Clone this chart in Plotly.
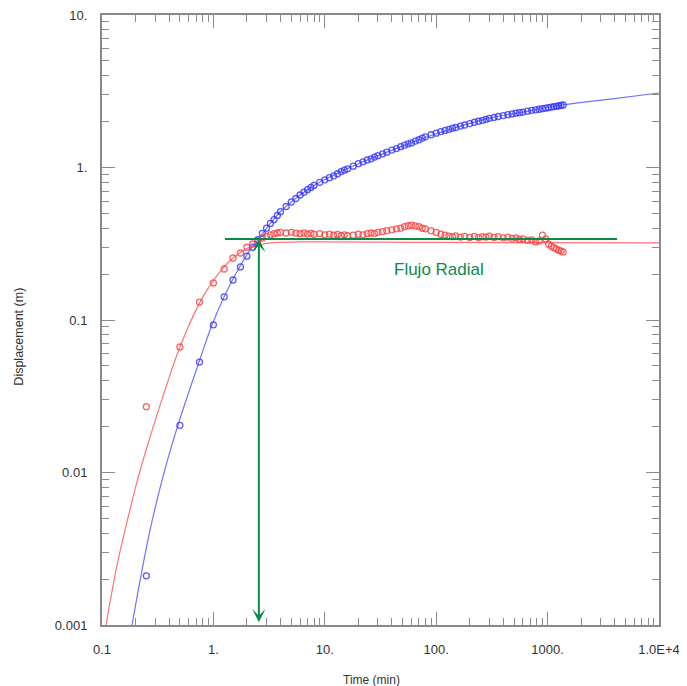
import math
import plotly.graph_objects as go

# ---------------- data ----------------
time_obs = [0.25, 0.5, 0.75, 1.0, 1.25, 1.5, 1.75, 2.0, 2.25, 2.5, 2.75, 3.0,
            3.25, 3.5, 3.75, 4.0, 4.5, 5.0, 5.5, 6.0, 6.5, 7.0, 7.5, 8.0, 9.0,
            10, 11, 12, 13, 14, 15, 16, 18, 20, 22, 24, 26, 28, 30, 33, 36,
            40, 44, 48, 52, 56, 60, 65, 70, 75, 80, 90, 100, 110, 120, 130,
            140, 150, 165, 180, 200, 220, 240, 260, 280, 300, 330, 360, 400,
            440, 480, 520, 560, 600, 660, 720, 780, 840, 900, 960, 1020, 1080,
            1140, 1200, 1260, 1320, 1380]

displacement_obs = [0.0021, 0.0204, 0.053, 0.093, 0.142, 0.183, 0.223, 0.262,
                    0.300, 0.336, 0.370, 0.400, 0.430, 0.455, 0.485, 0.513,
                    0.555, 0.594, 0.626, 0.660, 0.688, 0.716, 0.740, 0.763,
                    0.800, 0.83, 0.857, 0.880, 0.910, 0.940, 0.96, 0.98, 1.02,
                    1.06, 1.09, 1.12, 1.14, 1.17, 1.195, 1.23, 1.26, 1.30, 1.33,
                    1.37, 1.40, 1.43, 1.45, 1.49, 1.52, 1.56, 1.59, 1.64, 1.68,
                    1.72, 1.75, 1.78, 1.81, 1.83, 1.87, 1.90, 1.94, 1.98, 2.01,
                    2.04, 2.07, 2.10, 2.13, 2.16, 2.19, 2.22, 2.245, 2.27, 2.29,
                    2.31, 2.34, 2.37, 2.39, 2.41, 2.43, 2.45, 2.47, 2.49, 2.51,
                    2.52, 2.54, 2.555, 2.57]

derivative_obs = [0.027, 0.0665, 0.131, 0.175, 0.216, 0.255, 0.275, 0.30,
                  0.315, 0.33, 0.345, 0.355, 0.362, 0.368, 0.372, 0.375, 0.372,
                  0.376, 0.371, 0.368, 0.373, 0.366, 0.37, 0.365, 0.368, 0.362,
                  0.366, 0.36, 0.364, 0.358, 0.362, 0.357, 0.36, 0.365, 0.362,
                  0.368, 0.372, 0.37, 0.376, 0.38, 0.385, 0.39, 0.396, 0.40,
                  0.41, 0.415, 0.418, 0.414, 0.41, 0.40, 0.396, 0.385, 0.375,
                  0.365, 0.36, 0.355, 0.352, 0.356, 0.35, 0.354, 0.348, 0.353,
                  0.347, 0.352, 0.35, 0.355, 0.348, 0.352, 0.346, 0.35, 0.343,
                  0.346, 0.338, 0.34, 0.333, 0.335, 0.325, 0.33, 0.36, 0.34,
                  0.315, 0.305, 0.298, 0.292, 0.287, 0.283, 0.279]

# fitted curves
time_fit_disp = [0.186, 0.219, 0.27, 0.346, 0.407, 0.481, 0.743, 0.971, 1.245,
                 1.70, 2.13, 2.62, 3.22, 3.96, 4.87, 5.99, 7.36, 9.06, 13.7,
                 20.7, 31.3, 47.3, 76.2, 154, 304, 601, 1375, 3630, 10000]
disp_fit = [0.001, 0.00193, 0.0042, 0.0089, 0.0137, 0.0205, 0.053, 0.0927,
            0.1415, 0.220, 0.287, 0.350, 0.4266, 0.5106, 0.585, 0.660, 0.734,
            0.804, 0.934, 1.07, 1.21, 1.36, 1.555, 1.84, 2.11, 2.31, 2.57, 2.81,
            3.08]

time_fit_deriv = [0.1086, 0.1365, 0.1676, 0.206, 0.2535, 0.383, 0.501, 0.758,
                  0.992, 1.22, 1.50, 2.13, 3.22, 5.99, 100, 10000]
deriv_fit = [0.001, 0.00247, 0.00473, 0.00867, 0.01469, 0.038, 0.0665, 0.131,
             0.180, 0.219, 0.255, 0.301, 0.320, 0.325, 0.323, 0.320]

x_tick_vals = [0.1, 1, 10, 100, 1000, 10000]
x_tick_text = ["0.1", "1.", "10.", "100.", "1000.", "1.0E+4"]
y_tick_vals = [0.001, 0.01, 0.1, 1, 10]
y_tick_text = ["0.001", "0.01", "0.1", "1.", "10."]

x_title = "Time (min)"
y_title = "Displacement (m)"

radial_level = 0.34            # green "Flujo Radial" level
radial_t_range = [1.27, 4200]  # extent of the green horizontal line
arrow_time = 2.56              # time of the vertical double arrow
arrow_bottom = 0.00102
label_time, label_disp = 106, 0.213

# ---------------- styling ----------------
RED_LINE = "rgba(255,90,90,0.85)"
BLUE_LINE = "rgba(90,90,255,0.85)"
RED_MK = "rgba(255,60,60,0.8)"
BLUE_MK = "rgba(50,50,255,0.8)"
GREEN = "#0b8a4c"
AXIS = "#8a8a8a"
TEXT = "#333333"
FONT = "Liberation Sans, Arial, sans-serif"

fig = go.Figure()
fig.add_trace(go.Scatter(x=time_fit_disp, y=disp_fit, mode="lines",
                         line=dict(color=BLUE_LINE, width=1.2, shape="spline"),
                         showlegend=False))
fig.add_trace(go.Scatter(x=time_fit_deriv, y=deriv_fit, mode="lines",
                         line=dict(color=RED_LINE, width=1.2, shape="spline"),
                         showlegend=False))
fig.add_trace(go.Scatter(x=time_obs, y=displacement_obs, mode="markers",
                         marker=dict(symbol="circle-open", size=6,
                                     color=BLUE_MK, line=dict(width=1.3)),
                         showlegend=False))
fig.add_trace(go.Scatter(x=time_obs, y=derivative_obs, mode="markers",
                         marker=dict(symbol="circle-open", size=6,
                                     color=RED_MK, line=dict(width=1.3)),
                         showlegend=False))
fig.add_trace(go.Scatter(x=radial_t_range, y=[radial_level, radial_level],
                         mode="lines", line=dict(color=GREEN, width=2),
                         showlegend=False))

fig.add_annotation(x=math.log10(arrow_time), y=math.log10(radial_level),
                   ax=math.log10(arrow_time), ay=math.log10(arrow_bottom),
                   xref="x", yref="y", axref="x", ayref="y", text="",
                   showarrow=True, arrowhead=3, arrowside="end+start",
                   arrowsize=1.1, arrowwidth=2, arrowcolor=GREEN)
fig.add_annotation(x=math.log10(label_time), y=math.log10(label_disp),
                   xref="x", yref="y", text="Flujo Radial", showarrow=False,
                   font=dict(family=FONT, size=17, color=GREEN))

# axis titles placed as paper-anchored texts (as in the reference)
fig.add_annotation(text=x_title, xref="paper", yref="paper", x=0.483,
                   y=-0.090, xanchor="center", yanchor="middle",
                   showarrow=False, font=dict(family=FONT, size=12, color=TEXT))
fig.add_annotation(text=y_title, xref="paper", yref="paper", x=-0.148,
                   y=0.472, xanchor="center", yanchor="middle",
                   textangle=-90, showarrow=False,
                   font=dict(family=FONT, size=12.5, color=TEXT))

axis_common = dict(
    type="log", showline=True, linecolor=AXIS, linewidth=2, mirror="ticks",
    ticks="inside", ticklen=13, tickwidth=1, tickcolor=AXIS,
    showgrid=False, zeroline=False, ticklabeloverflow="allow",
    tickfont=dict(family=FONT, size=13, color=TEXT),
    minor=dict(ticks="inside", ticklen=7, tickwidth=1, tickcolor=AXIS,
               dtick="D1", showgrid=False),
)

fig.update_xaxes(**axis_common, range=[-1, 4], tickvals=x_tick_vals,
                 ticktext=x_tick_text, ticklabelstandoff=11)
fig.update_yaxes(**axis_common, range=[-3, 1], tickvals=y_tick_vals,
                 ticktext=y_tick_text, ticklabelstandoff=10)

# the page body adds an 8px offset, so the figure is 8px smaller and shifted
fig.update_layout(width=679, height=678, plot_bgcolor="white",
                  paper_bgcolor="white",
                  margin=dict(l=94, r=28, t=7, b=61, autoexpand=False),
                  showlegend=False)

fig.write_html("out.html")
